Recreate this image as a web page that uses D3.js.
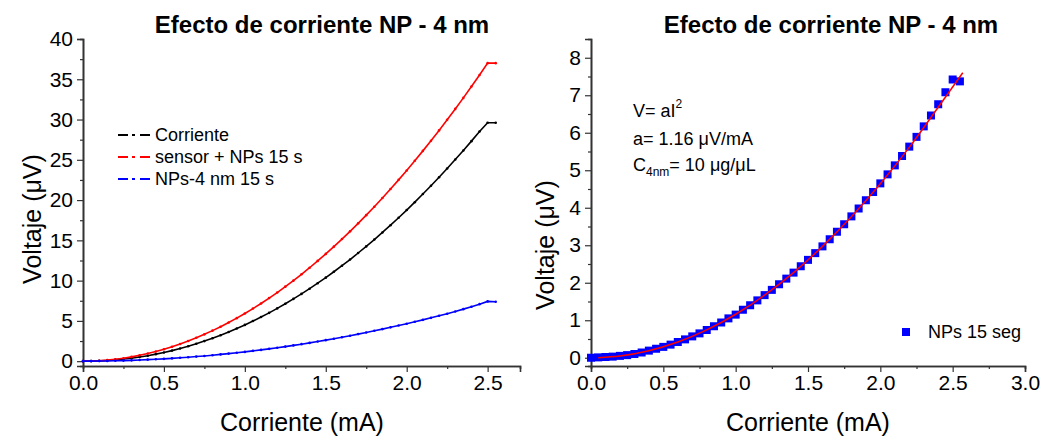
<!DOCTYPE html>
<html>
<head>
<meta charset="utf-8">
<script src="https://cdn.jsdelivr.net/npm/d3@7"></script>
<style>
  body { margin: 0; background: #fff; }
  svg text { font-family: "Liberation Sans", Arial, sans-serif; fill: #000; }
</style>
</head>
<body>
<div id="chart"></div>
<script>
// current values (mA)
var current = [0, 0.05, 0.1, 0.15, 0.2, 0.25, 0.3, 0.35, 0.4, 0.45, 0.5, 0.55, 0.6, 0.65, 0.7, 0.75, 0.8, 0.85, 0.9, 0.95,
    1.0, 1.05, 1.1, 1.15, 1.2, 1.25, 1.3, 1.35, 1.4, 1.45, 1.5, 1.55, 1.6, 1.65, 1.7, 1.75, 1.8, 1.85, 1.9, 1.95,
    2.0, 2.05, 2.1, 2.15, 2.2, 2.25, 2.3, 2.35, 2.4, 2.45, 2.5, 2.55];
// voltage (uV) for each series
var vCorriente = [0, 0.01, 0.04, 0.09, 0.16, 0.26, 0.38, 0.52, 0.68, 0.87, 1.08, 1.31, 1.57, 1.85, 2.16, 2.49, 2.84, 3.22, 3.62, 4.05,
    4.50, 4.98, 5.48, 6.00, 6.55, 7.13, 7.73, 8.35, 9.00, 9.68, 10.37, 11.10, 11.85, 12.62, 13.43, 14.25, 15.10, 15.98, 16.88, 17.81,
    18.76, 19.74, 20.75, 21.78, 22.83, 23.92, 25.03, 26.16, 27.32, 28.51, 29.60, 29.60];
var vSensor = [0, 0.02, 0.06, 0.13, 0.24, 0.37, 0.53, 0.73, 0.95, 1.20, 1.48, 1.79, 2.13, 2.50, 2.90, 3.33, 3.79, 4.28, 4.80, 5.34,
    5.92, 6.53, 7.16, 7.83, 8.52, 9.25, 10.00, 10.79, 11.60, 12.45, 13.32, 14.22, 15.16, 16.12, 17.11, 18.13, 19.18, 20.26, 21.37, 22.51,
    23.68, 24.88, 26.11, 27.36, 28.65, 29.97, 31.32, 32.69, 34.10, 35.53, 37.00, 37.00];
var vNPs = [0, 0.01, 0.02, 0.03, 0.05, 0.07, 0.10, 0.14, 0.19, 0.24, 0.29, 0.35, 0.42, 0.49, 0.57, 0.65, 0.74, 0.84, 0.94, 1.05,
    1.15, 1.28, 1.40, 1.53, 1.67, 1.81, 1.96, 2.11, 2.27, 2.44, 2.61, 2.79, 2.97, 3.16, 3.36, 3.56, 3.77, 3.98, 4.20, 4.42,
    4.65, 4.89, 5.13, 5.38, 5.63, 5.89, 6.17, 6.46, 6.76, 7.08, 7.42, 7.37];
// fit V = a I^2
var fitI = [0.05, 0.2, 0.4, 0.6, 0.8, 1.0, 1.2, 1.4, 1.6, 1.8, 2.0, 2.2, 2.4, 2.57];
var fitV = [0.003, 0.046, 0.186, 0.418, 0.742, 1.16, 1.67, 2.27, 2.97, 3.76, 4.64, 5.61, 6.68, 7.6];

var leftTicksX = [0, 0.5, 1.0, 1.5, 2.0, 2.5];
var leftTicksY = [0, 5, 10, 15, 20, 25, 30, 35, 40];
var rightTicksX = [0, 0.5, 1.0, 1.5, 2.0, 2.5, 3.0];
var rightTicksY = [0, 1, 2, 3, 4, 5, 6, 7, 8];

var series = [
    {name: "Corriente", values: vCorriente, color: "#000000"},
    {name: "sensor + NPs 15 s", values: vSensor, color: "#ff0000"},
    {name: "NPs-4 nm 15 s", values: vNPs, color: "#0000ff"}
];

var svg = d3.select("#chart").append("svg")
    .attr("width", 1047)
    .attr("height", 436);

// draws a left + bottom axis pair with outward major and minor ticks
function draw_axes(x, y, xt, yt, xMinor, yMinor){
    var gx = svg.append("g")
        .attr("transform", "translate(0," + y.range()[0] + ")")
        .call(d3.axisBottom(x).tickValues(xt).tickFormat(d3.format(".1f")).tickSize(6).tickPadding(3));
    svg.append("g")
        .attr("transform", "translate(0," + y.range()[0] + ")")
        .call(d3.axisBottom(x).tickValues(xMinor).tickFormat("").tickSize(3));
    var gy = svg.append("g")
        .attr("transform", "translate(" + x.range()[0] + ",0)")
        .call(d3.axisLeft(y).tickValues(yt).tickFormat(d3.format("d")).tickSize(6).tickPadding(4));
    svg.append("g")
        .attr("transform", "translate(" + x.range()[0] + ",0)")
        .call(d3.axisLeft(y).tickValues(yMinor).tickFormat("").tickSize(3));
    svg.selectAll(".domain").attr("stroke", "#333").attr("stroke-width", 1.6);
    svg.selectAll(".tick line").attr("stroke", "#333").attr("stroke-width", 1.2);
    gx.selectAll("text").attr("font-size", "21px").attr("fill", "#000");
    gy.selectAll("text").attr("font-size", "21px").attr("fill", "#000");
}

// ---------- left plot ----------
var x1 = d3.scaleLinear().domain([0, 2.7]).range([83, 520]);
var y1 = d3.scaleLinear().domain([-0.6, 40]).range([366, 39]);

draw_axes(x1, y1, leftTicksX, leftTicksY,
    [0.25, 0.75, 1.25, 1.75, 2.25],
    [2.5, 7.5, 12.5, 17.5, 22.5, 27.5, 32.5, 37.5]);

var line1 = d3.line()
    .x(function(d, i) { return x1(current[i]); })
    .y(function(d) { return y1(d); });

series.forEach(function(s){
    svg.append("path")
        .datum(s.values)
        .attr("fill", "none")
        .attr("stroke", s.color)
        .attr("stroke-width", 1.6)
        .attr("d", line1);
    svg.append("g").selectAll("circle")
        .data(s.values)
        .join("circle")
        .attr("cx", function(d, i) { return x1(current[i]); })
        .attr("cy", function(d) { return y1(d); })
        .attr("r", 1.3)
        .attr("fill", s.color);
});

// legend
series.forEach(function(s, i){
    var ly = 135 + i * 22;
    svg.append("line")
        .attr("x1", 118).attr("x2", 150).attr("y1", ly).attr("y2", ly)
        .attr("stroke", s.color).attr("stroke-width", 2)
        .attr("stroke-dasharray", "10 4 3 5 10");
    svg.append("text")
        .attr("x", 155).attr("y", ly)
        .attr("dy", "0.35em")
        .attr("font-size", "18px")
        .text(s.name);
});

svg.append("text")
    .attr("x", 322).attr("y", 33)
    .attr("text-anchor", "middle")
    .attr("font-size", "24px")
    .attr("font-weight", "bold")
    .text("Efecto de corriente NP - 4 nm");
svg.append("text")
    .attr("x", 302).attr("y", 431)
    .attr("text-anchor", "middle")
    .attr("font-size", "25px")
    .text("Corriente (mA)");
svg.append("text")
    .attr("transform", "translate(41,219) rotate(-90)")
    .attr("text-anchor", "middle")
    .attr("font-size", "25px")
    .text("Voltaje (\u03bcV)");

// ---------- right plot ----------
var x2 = d3.scaleLinear().domain([0, 3]).range([591, 1025]);
var y2 = d3.scaleLinear().domain([-0.22, 8.5]).range([366, 39]);

draw_axes(x2, y2, rightTicksX, rightTicksY,
    [0.25, 0.75, 1.25, 1.75, 2.25, 2.75],
    [0.5, 1.5, 2.5, 3.5, 4.5, 5.5, 6.5, 7.5]);

svg.append("g").selectAll("rect")
    .data(vNPs)
    .join("rect")
    .attr("x", function(d, i) { return x2(current[i]) - 4; })
    .attr("y", function(d) { return y2(d) - 4; })
    .attr("width", 8)
    .attr("height", 8)
    .attr("fill", "#0000ff");

svg.append("path")
    .datum(fitV)
    .attr("fill", "none")
    .attr("stroke", "#ff0000")
    .attr("stroke-width", 1.5)
    .attr("d", d3.line()
        .curve(d3.curveMonotoneX)
        .x(function(d, i) { return x2(fitI[i]); })
        .y(function(d) { return y2(d); }));

// fit annotation
var ann = svg.append("text").attr("x", 633).attr("y", 117).attr("font-size", "18px");
ann.append("tspan").text("V= aI");
ann.append("tspan").attr("dy", -9).attr("font-size", "12px").text("2");
svg.append("text").attr("x", 633).attr("y", 145).attr("font-size", "18px").text("a= 1.16 \u03bcV/mA");
var ann3 = svg.append("text").attr("x", 633).attr("y", 171).attr("font-size", "18px");
ann3.append("tspan").text("C");
ann3.append("tspan").attr("dy", 5).attr("font-size", "12px").text("4nm");
ann3.append("tspan").attr("dy", -5).text("= 10 \u03bcg/\u03bcL");

// legend
svg.append("rect")
    .attr("x", 902).attr("y", 328).attr("width", 8).attr("height", 8)
    .attr("fill", "#0000ff");
svg.append("text")
    .attr("x", 928).attr("y", 332).attr("dy", "0.35em")
    .attr("font-size", "18px")
    .text("NPs 15 seg");

svg.append("text")
    .attr("x", 831).attr("y", 33)
    .attr("text-anchor", "middle")
    .attr("font-size", "24px")
    .attr("font-weight", "bold")
    .text("Efecto de corriente NP - 4 nm");
svg.append("text")
    .attr("x", 808).attr("y", 431)
    .attr("text-anchor", "middle")
    .attr("font-size", "25px")
    .text("Corriente (mA)");
svg.append("text")
    .attr("transform", "translate(554,245) rotate(-90)")
    .attr("text-anchor", "middle")
    .attr("font-size", "25px")
    .text("Voltaje (\u03bcV)");
</script>
</body>
</html>
